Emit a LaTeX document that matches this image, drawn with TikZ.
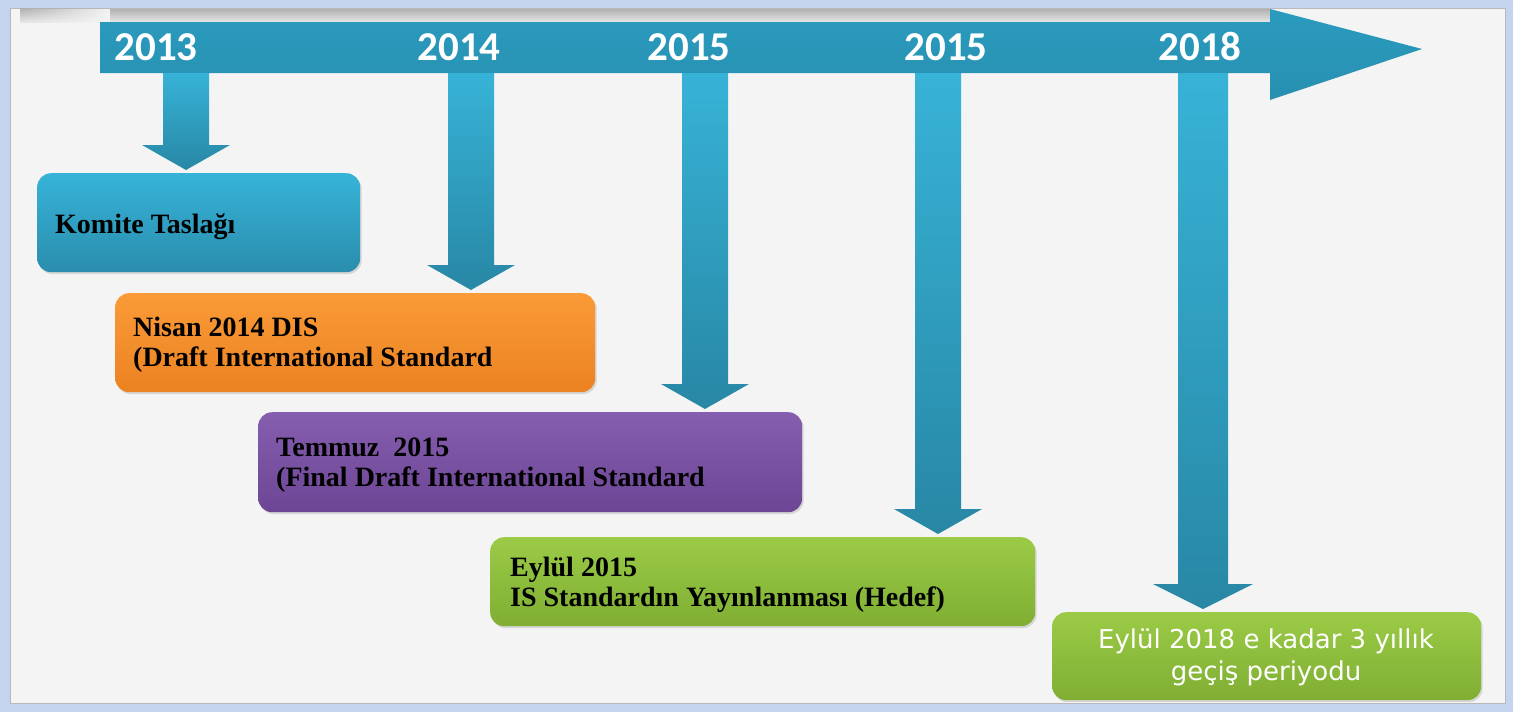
\documentclass[tikz,border=0pt]{standalone}
\usepackage{fontspec}
\setmainfont{Liberation Serif}
\newfontfamily\yearfont{Carlito}
\newfontfamily\dvfont{DejaVu Sans}
\usetikzlibrary{calc,shadows,fadings}
\definecolor{frameblue}{HTML}{C5D4EE}
\definecolor{bggray}{HTML}{F4F4F4}
\definecolor{arrowA}{HTML}{37B3D7}
\definecolor{arrowB}{HTML}{2887A5}
\definecolor{mainA}{HTML}{2A9BBE}
\definecolor{mainM}{HTML}{32ACD0}
\definecolor{mainB}{HTML}{2890B1}
\definecolor{cyanA}{HTML}{36B3D8}
\definecolor{cyanB}{HTML}{2A8DAD}
\definecolor{orangeA}{HTML}{FA9B37}
\definecolor{orangeB}{HTML}{EC8222}
\definecolor{purpleA}{HTML}{865EAF}
\definecolor{purpleB}{HTML}{6D4595}
\definecolor{greenA}{HTML}{9BCB46}
\definecolor{greenB}{HTML}{7FAE33}
\newcommand{\dnarrow}[4]{% #1 box, #2 x centre, #3 shaft half width, #4 head half width
  \shade[top color=arrowA, bottom color=arrowB] let \p1=(#1.north) in
    (#2-#3,73) -- (#2+#3,73) -- (#2+#3,{\y1+28pt}) -- (#2+#4,{\y1+28pt})
    -- (#2,{\y1+3pt}) -- (#2-#4,{\y1+28pt}) -- (#2-#3,{\y1+28pt}) -- cycle;}
\begin{document}
\begin{tikzpicture}[x=1pt,y=-1pt,
  box/.style={rounded corners=14pt, anchor=north west, inner sep=0pt,
    drop shadow={opacity=0.25, shadow xshift=1.5pt, shadow yshift=-2pt}},
  boxtext/.style={font=\bfseries\fontsize{28}{30}\selectfont, text=black, align=left, inner sep=0pt, anchor=base west},
  lasttext/.style={font=\dvfont\fontsize{26}{32}\selectfont, text=white, align=center, inner sep=0pt, anchor=base},
  yeartext/.style={font=\yearfont\bfseries\fontsize{41}{41}\selectfont, text=white, inner sep=0pt, anchor=base}]
\useasboundingbox (0,0) rectangle (1513,712);
% frame and background
\fill[frameblue] (0,0) rectangle (1513,712);
\fill[bggray] (10,8) rectangle (1505,703);
\draw[gray!55, line width=0.8pt] (10,8) rectangle (1505,703);
% soft shadow above the main arrow
\shade[top color=gray!60, bottom color=gray!20] (110,9) rectangle (1270,22);
\shade[top color=gray!60, bottom color=gray!20, path fading=east] (20,9) rectangle (110.5,22);
% main arrow
\shade[top color=mainA, middle color=mainM, bottom color=mainB]
  (100,22) -- (1270,22) -- (1270,9) -- (1422,49) -- (1270,100) -- (1270,73) -- (100,73) -- cycle;
% boxes
\node[box, top color=cyanA, bottom color=cyanB, minimum width=323pt, minimum height=99pt] (b1) at (37,173) {};
\node[box, top color=orangeA, bottom color=orangeB, minimum width=480pt, minimum height=99pt] (b2) at (115,293) {};
\node[box, top color=purpleA, bottom color=purpleB, minimum width=544pt, minimum height=100pt] (b3) at (258,412) {};
\node[box, top color=greenA, bottom color=greenB, minimum width=545pt, minimum height=89pt] (b4) at (490,537) {};
\node[box, top color=greenA, bottom color=greenB, minimum width=429pt, minimum height=88pt] (b5) at (1052,612) {};
% down arrows
\dnarrow{b1}{186}{23}{44}
\dnarrow{b2}{471}{23}{44}
\dnarrow{b3}{705}{23}{44}
\dnarrow{b4}{938}{23}{44}
\dnarrow{b5}{1203}{25}{50}
% years
\node[yeartext] (y1) at (156,60) {2013};
\node[yeartext] (y2) at (459,60) {2014};
\node[yeartext] (y3) at (689,60) {2015};
\node[yeartext] (y4) at (946,60) {2015};
\node[yeartext] (y5) at (1200,60) {2018};
% texts (anchor base = baseline of the last line)
\node[boxtext] (t1) at (55,233) {Komite Taslağı};
\node[boxtext] (t2) at (133,366) {Nisan 2014 DIS\\(Draft International Standard};
\node[boxtext] (t3) at (276,486) {Temmuz~~2015\\(Final Draft International Standard};
\node[boxtext] (t4) at (510,606) {Eylül 2015\\IS Standardın Yayınlanması (Hedef)};
\node[lasttext] (t5) at (1266,680) {Eylül 2018 e kadar 3 yıllık\\geçiş periyodu};
\end{tikzpicture}
\end{document}
